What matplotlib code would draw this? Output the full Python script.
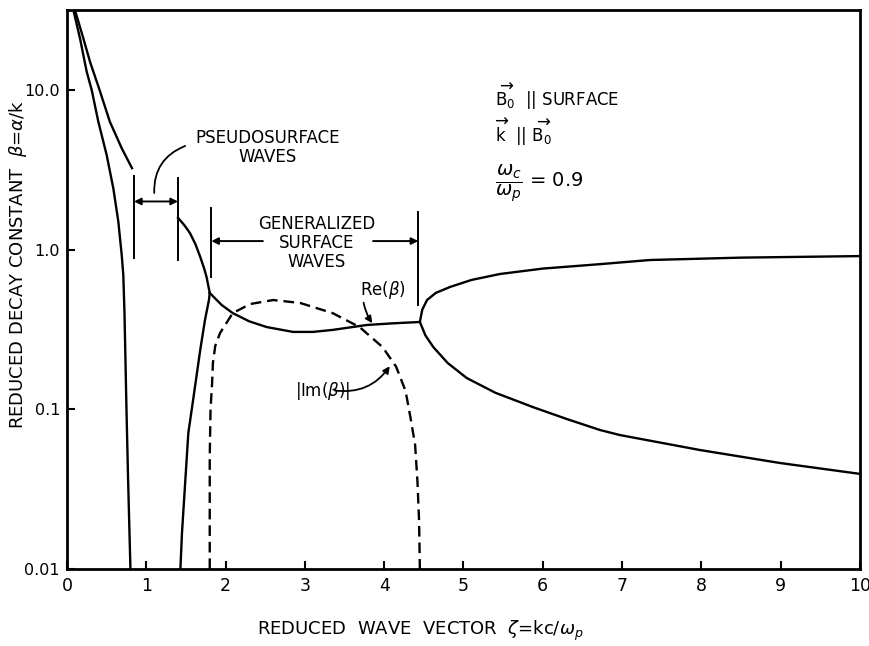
import matplotlib
matplotlib.use("Agg")
import matplotlib.pyplot as plt

# ---------------- data ----------------
# left pair of branches (both start above the frame)
a_x = [0.10, 0.206, 0.29, 0.41, 0.54, 0.69, 0.82]
a_y = [31.6, 21.0, 15.0, 10.0, 6.32, 4.31, 3.23]

b_x = [0.08, 0.164, 0.248, 0.311, 0.395, 0.50, 0.584, 0.647, 0.69, 0.71, 0.725, 0.75, 0.77, 0.80]
b_y = [31.6, 21.0, 13.0, 10.0, 6.32, 3.91, 2.42, 1.50, 0.925, 0.693, 0.40, 0.10, 0.037, 0.01]

# branch falling from the pseudosurface marker to the branch point
c_x = [1.40, 1.48, 1.55, 1.62, 1.68, 1.73, 1.76, 1.80]
c_y = [1.58, 1.42, 1.27, 1.08, 0.90, 0.76, 0.673, 0.535]

# branch rising from the axis to the branch point
d_x = [1.43, 1.45, 1.49, 1.53, 1.59, 1.68, 1.74, 1.79, 1.80]
d_y = [0.01, 0.0168, 0.0346, 0.071, 0.114, 0.235, 0.362, 0.483, 0.535]

# Re(beta) in the generalized surface wave region
re_x = [1.80, 1.95, 2.09, 2.30, 2.52, 2.85, 3.10, 3.35, 3.78, 4.10, 4.45]
re_y = [0.535, 0.45, 0.40, 0.355, 0.327, 0.305, 0.305, 0.314, 0.337, 0.345, 0.352]

# the two branches beyond the second branch point
up_x = [4.45, 4.48, 4.54, 4.65, 4.83, 5.10, 5.46, 6.00, 6.72, 7.35, 8.50, 10.0]
up_y = [0.352, 0.42, 0.483, 0.535, 0.583, 0.645, 0.703, 0.76, 0.81, 0.86, 0.89, 0.91]

lo_x = [4.45, 4.52, 4.62, 4.80, 5.04, 5.40, 5.88, 6.30, 6.72, 6.97, 7.98, 8.99, 10.0]
lo_y = [0.352, 0.29, 0.245, 0.195, 0.157, 0.127, 0.103, 0.087, 0.0742, 0.069, 0.0556, 0.0461, 0.0394]

# |Im(beta)| (dashed)
im_x = [1.80, 1.80, 1.81, 1.83, 1.84, 1.87, 1.93, 2.09, 2.31, 2.60, 2.94, 3.35, 3.69,
        3.98, 4.15, 4.27, 4.33, 4.39, 4.42, 4.44, 4.45]
im_y = [0.01, 0.05, 0.10, 0.146, 0.195, 0.25, 0.30, 0.40, 0.456, 0.483, 0.463, 0.40, 0.327,
        0.245, 0.185, 0.13, 0.0895, 0.06, 0.035, 0.02, 0.01]

x_ticks = [0, 1, 2, 3, 4, 5, 6, 7, 8, 9, 10]
x_ticklabels = ["0", "1", "2", "3", "4", "5", "6", "7", "8", "9", "10"]
y_ticks = [0.01, 0.1, 1.0, 10.0]
y_ticklabels = ["0.01", "0.1", "1.0", "10.0"]

# ---------------- figure ----------------
fig = plt.figure(figsize=(8.69, 6.46), dpi=100)
ax = fig.add_axes([0.0771, 0.1192, 0.9125, 0.8653])
ax.set_yscale("log")
ax.set_xlim(0, 10)
ax.set_ylim(0.01, 31.6)

lw = 1.7
for xs, ys in [(a_x, a_y), (b_x, b_y), (c_x, c_y), (d_x, d_y),
               (re_x, re_y), (up_x, up_y), (lo_x, lo_y)]:
    ax.plot(xs, ys, color="black", lw=lw, solid_joinstyle="round")
ax.plot(im_x, im_y, color="black", lw=lw, ls=(0, (4.5, 2.5)))

ax.set_xticks(x_ticks)
ax.set_xticklabels(x_ticklabels)
ax.set_yticks(y_ticks)
ax.set_yticklabels(y_ticklabels)
ax.minorticks_off()
ax.tick_params(direction="in", length=6, width=1.5, labelsize=12.5, pad=6)
ax.tick_params(axis="y", labelsize=11.5, pad=5)
for s in ax.spines.values():
    s.set_linewidth(2)

ax.set_xlabel(r"REDUCED  WAVE  VECTOR  $\zeta$=kc/$\omega_p$", fontsize=13)
ax.xaxis.label.set_va("center")
ax.xaxis.set_label_coords(0.446, -0.111)
ax.set_ylabel(r"REDUCED DECAY CONSTANT  $\beta$=$\alpha$/k", fontsize=13)
ax.yaxis.label.set_va("center")
ax.yaxis.set_label_coords(-0.062, 0.544)

# ---------------- annotations ----------------
def vline(x, y0, y1):
    ax.plot([x, x], [y0, y1], color="black", lw=1.4)

# pseudosurface region markers
vline(0.845, 2.90, 0.885)
vline(1.40, 2.81, 0.86)
ax.annotate("", xy=(0.845, 2.0), xytext=(1.40, 2.0),
            arrowprops=dict(arrowstyle="<|-|>", color="black", lw=1.4,
                            mutation_scale=10, shrinkA=0, shrinkB=0))
ax.text(2.53, 4.35, "PSEUDOSURFACE\nWAVES", ha="center", va="center",
        fontsize=12, linespacing=1.1)
ax.annotate("", xy=(1.10, 2.26), xytext=(1.49, 4.45),
            arrowprops=dict(arrowstyle="-", color="black", lw=1.3,
                            connectionstyle="arc3,rad=0.35", shrinkA=0, shrinkB=0))

# generalized surface waves markers
vline(1.82, 1.82, 0.67)
vline(4.43, 1.72, 0.45)
ax.annotate("", xy=(1.82, 1.13), xytext=(2.47, 1.13),
            arrowprops=dict(arrowstyle="-|>", color="black", lw=1.4,
                            mutation_scale=10, shrinkA=0, shrinkB=0))
ax.annotate("", xy=(4.43, 1.13), xytext=(3.86, 1.13),
            arrowprops=dict(arrowstyle="-|>", color="black", lw=1.4,
                            mutation_scale=10, shrinkA=0, shrinkB=0))
ax.text(3.15, 1.10, "GENERALIZED\nSURFACE\nWAVES", ha="center", va="center",
        fontsize=12, linespacing=1.1)

# Re(beta) label
ax.text(3.98, 0.56, r"Re($\beta$)", ha="center", va="center", fontsize=12)
ax.annotate("", xy=(3.85, 0.346), xytext=(3.74, 0.465),
            arrowprops=dict(arrowstyle="-|>", color="black", lw=1.3,
                            mutation_scale=10, shrinkA=0, shrinkB=0,
                            connectionstyle="arc3,rad=0.1"))

# |Im(beta)| label
ax.text(3.22, 0.131, r"|Im($\beta$)|", ha="center", va="center", fontsize=12)
ax.annotate("", xy=(4.07, 0.186), xytext=(3.38, 0.131),
            arrowprops=dict(arrowstyle="-|>", color="black", lw=1.3,
                            mutation_scale=10, shrinkA=0, shrinkB=0,
                            connectionstyle="arc3,rad=0.3"))

# conditions text
ax.text(5.40, 9.1, r"$\overrightarrow{\mathrm{B_0}}$  || SURFACE", ha="left", va="center",
        fontsize=12)
ax.text(5.40, 5.4, r"$\overrightarrow{\mathrm{k}}$  || $\overrightarrow{\mathrm{B_0}}$",
        ha="left", va="center", fontsize=12)
ax.text(5.40, 2.62, r"$\dfrac{\omega_c}{\omega_p}$ = 0.9", ha="left", va="center",
        fontsize=14)

fig.savefig("out.png", dpi=100)
